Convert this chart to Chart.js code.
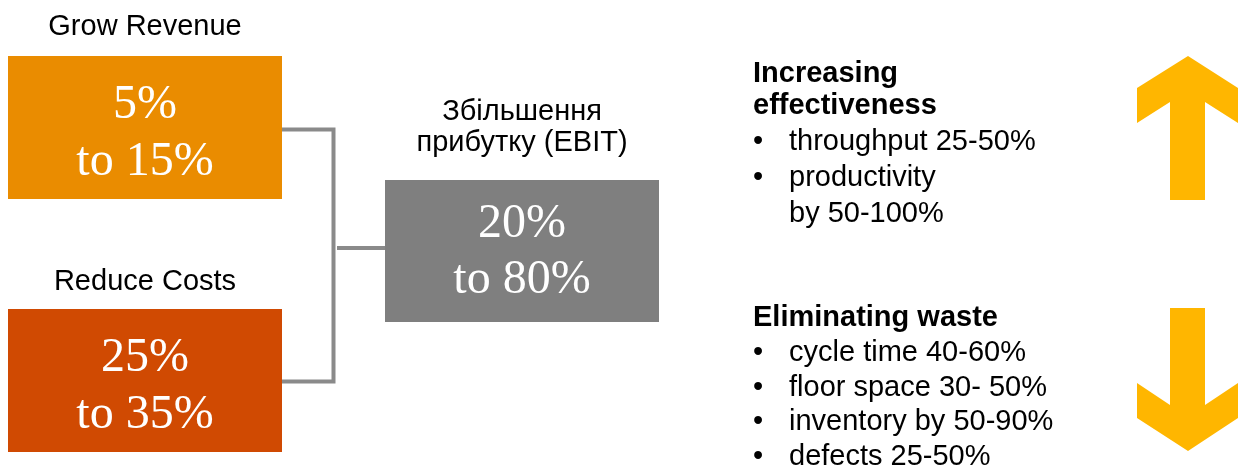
<!DOCTYPE html>
<html>
<head>
<meta charset="utf-8">
<script src="https://cdn.jsdelivr.net/npm/chart.js@4"></script>
<style>
  html, body { margin: 0; padding: 0; background: #fff; }
  #diagram { display: block; }
</style>
</head>
<body>
<canvas id="diagram" width="1245" height="467"></canvas>
<script>
// content of the diagram
const leverLabels = ['Grow Revenue', 'Reduce Costs'];
const leverRanges = [['5%', 'to 15%'], ['25%', 'to 35%']];
const resultLabel = ['Збільшення', 'прибутку (EBIT)'];
const resultRange = ['20%', 'to 80%'];
const upHeading = ['Increasing', 'effectiveness'];
const upBullets = [['throughput 25-50%'], ['productivity', 'by 50-100%']];
const downHeading = ['Eliminating waste'];
const downBullets = [['cycle time 40-60%'], ['floor space 30- 50%'], ['inventory by 50-90%'], ['defects 25-50%']];

// layout (in the 1245 x 467 diagram space)
const leverColors = ['#EA8C00', '#D04A02'];
const resultColor = '#7F7F7F';
const arrowColor = '#FFB600';
const lineColor = '#8A8A8A';
const sansFont = '"Liberation Sans", Arial, sans-serif';
const serifFont = '"Liberation Serif", "DejaVu Serif", serif';

const leverBoxes = [
  { x0: 8, y0: 56, x1: 282, y1: 199, labelY: 35 },
  { x0: 8, y0: 309, x1: 282, y1: 452, labelY: 290 }
];
const resultBox = { x0: 385, y0: 180, x1: 659, y1: 322, labelY: [120, 151] };

const diagramPlugin = {
  id: 'diagram',
  afterDraw(chart) {
    const ctx = chart.ctx;
    const sx = chart.scales.x, sy = chart.scales.y;
    const X = v => sx.getPixelForValue(v);
    const Y = v => sy.getPixelForValue(v);

    const rect = (b, color) => {
      ctx.fillStyle = color;
      ctx.fillRect(X(b.x0), Y(b.y0), X(b.x1) - X(b.x0), Y(b.y1) - Y(b.y0));
    };
    const text = (s, x, y, font, color, align) => {
      ctx.font = font;
      ctx.fillStyle = color;
      ctx.textAlign = align || 'center';
      ctx.textBaseline = 'alphabetic';
      ctx.fillText(s, X(x), Y(y));
    };

    ctx.save();

    // connector lines
    ctx.strokeStyle = lineColor;
    ctx.lineWidth = 4;
    ctx.lineCap = 'butt';
    ctx.beginPath();
    ctx.moveTo(X(282), Y(129.5));
    ctx.lineTo(X(333.5), Y(129.5));
    ctx.lineTo(X(333.5), Y(381.5));
    ctx.lineTo(X(282), Y(381.5));
    ctx.stroke();
    ctx.beginPath();
    ctx.moveTo(X(337), Y(248));
    ctx.lineTo(X(385), Y(248));
    ctx.stroke();

    // lever boxes
    leverBoxes.forEach((b, i) => {
      rect(b, leverColors[i]);
      const cx = (b.x0 + b.x1) / 2;
      text(leverLabels[i], cx, b.labelY, '29px ' + sansFont, '#000');
      text(leverRanges[i][0], cx, b.y0 + 62, '48px ' + serifFont, '#fff');
      text(leverRanges[i][1], cx, b.y0 + 119, '48px ' + serifFont, '#fff');
    });

    // result box
    rect(resultBox, resultColor);
    const rcx = (resultBox.x0 + resultBox.x1) / 2;
    resultLabel.forEach((s, i) => text(s, rcx, resultBox.labelY[i], '29px ' + sansFont, '#000'));
    text(resultRange[0], rcx, resultBox.y0 + 57, '48px ' + serifFont, '#fff');
    text(resultRange[1], rcx, resultBox.y0 + 113, '48px ' + serifFont, '#fff');

    // text blocks on the right
    const block = (heading, bullets, y, headStep, step) => {
      heading.forEach((s, i) => {
        if (i) y += headStep;
        text(s, 753, y, 'bold 29px ' + sansFont, '#000', 'left');
      });
      bullets.forEach(lines => {
        y += step;
        text('\u2022', 753, y, '29px ' + sansFont, '#000', 'left');
        lines.forEach((s, j) => {
          if (j) y += step;
          text(s, 789, y, '29px ' + sansFont, '#000', 'left');
        });
      });
    };
    block(upHeading, upBullets, 82, 32, 36);
    block(downHeading, downBullets, 326, 32, 34.8);

    // arrows
    const poly = pts => {
      ctx.fillStyle = arrowColor;
      ctx.beginPath();
      pts.forEach((p, i) => i ? ctx.lineTo(X(p[0]), Y(p[1])) : ctx.moveTo(X(p[0]), Y(p[1])));
      ctx.closePath();
      ctx.fill();
    };
    poly([[1188, 56], [1238, 88], [1238, 123], [1205, 102], [1205, 200], [1170, 200],
          [1170, 102], [1137, 123], [1137, 88]]);
    poly([[1170, 308], [1205, 308], [1205, 405], [1238, 383], [1238, 418], [1188, 451],
          [1137, 418], [1137, 383], [1170, 405]]);

    ctx.restore();
  }
};

new Chart(document.getElementById('diagram'), {
  type: 'scatter',
  data: { datasets: [{ data: [], showLine: false }] },
  options: {
    responsive: false,
    animation: false,
    devicePixelRatio: 1,
    layout: { padding: 0 },
    plugins: { legend: { display: false }, tooltip: { enabled: false } },
    scales: {
      x: { type: 'linear', min: 0, max: 1245, display: false },
      y: { type: 'linear', min: 0, max: 467, reverse: true, display: false }
    }
  },
  plugins: [diagramPlugin]
});
</script>
</body>
</html>
